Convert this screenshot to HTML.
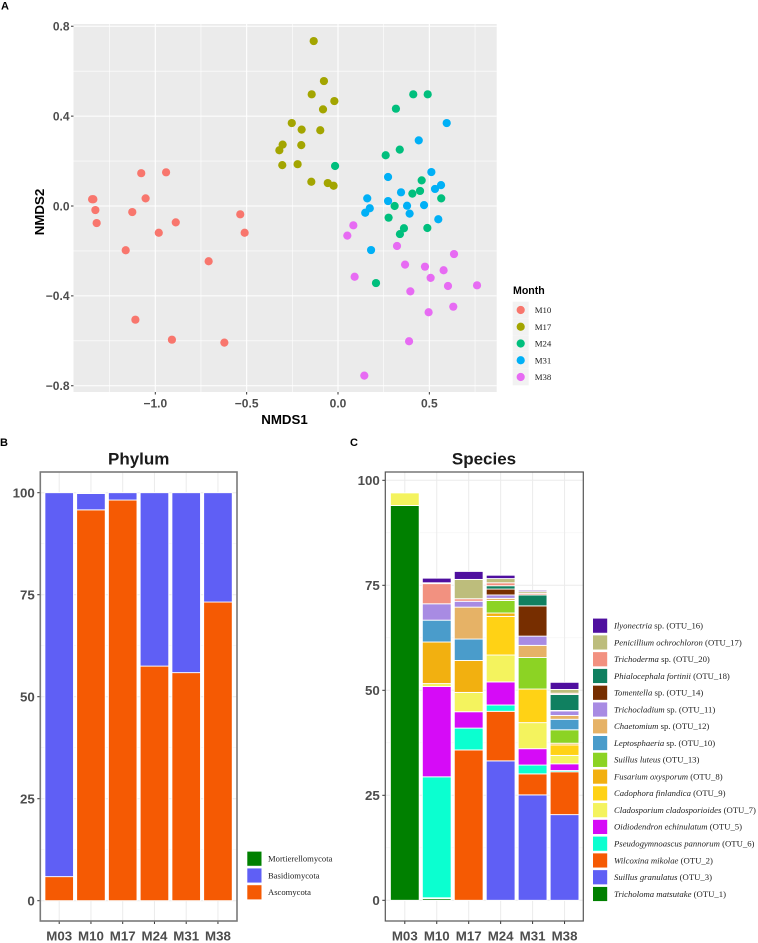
<!DOCTYPE html>
<html>
<head>
<meta charset="utf-8">
<title>Fungal community composition</title>
<style>
html,body{margin:0;padding:0;background:#fff;}
svg{display:block;}
text{font-family:"Liberation Sans",sans-serif;}
.serif{font-family:"Liberation Serif",serif;}
</style>
</head>
<body>
<svg id="fig" xmlns="http://www.w3.org/2000/svg" width="758" height="943" viewBox="0 0 758 943">
  <text x="1" y="9.5" font-size="11" font-weight="bold">A</text>
  <text x="0" y="446" font-size="11" font-weight="bold">B</text>
  <text x="350" y="446" font-size="11" font-weight="bold">C</text>
  <text x="284.5" y="424" font-size="13.3" font-weight="bold" text-anchor="middle">NMDS1</text>
  <text transform="translate(44,212) rotate(-90)" font-size="13.3" font-weight="bold" text-anchor="middle">NMDS2</text>
  <text x="513" y="294" font-size="10.6" font-weight="bold">Month</text>
  <text x="138.7" y="464.3" font-size="17" font-weight="bold" fill="#1a1a1a" text-anchor="middle">Phylum</text>
  <text x="484" y="464.3" font-size="17" font-weight="bold" fill="#1a1a1a" text-anchor="middle">Species</text>
</svg>
<script>
// ---------- Panel A data ----------
const scatterXTicks = [-1.0, -0.5, 0.0, 0.5];
const scatterXMinor = [-1.25, -0.75, -0.25, 0.25, 0.75];
const scatterYTicks = [-0.8, -0.4, 0.0, 0.4, 0.8];
const scatterYMinor = [-0.6, -0.2, 0.2, 0.6];
const scatterXLabels = ['\u22121.0', '\u22120.5', '0.0', '0.5'];
const scatterYLabels = ['\u22120.8', '\u22120.4', '0.0', '0.4', '0.8'];
const monthNames = ['M10', 'M17', 'M24', 'M31', 'M38'];
const monthColors = ['#F8766D', '#A3A500', '#00BF7D', '#00B0F6', '#E76BF3'];
const m10x = [-1.346,-1.339,-1.328,-1.321,-1.077,-0.941,-1.053,-1.126,-0.535,-0.888,-0.981,-0.511,-1.162,-0.708,-1.109,-0.909,-0.622];
const m10y = [0.030,0.030,-0.018,-0.076,0.146,0.150,0.034,-0.027,-0.037,-0.073,-0.119,-0.119,-0.197,-0.246,-0.506,-0.595,-0.608];
const m17x = [-0.133,-0.077,-0.144,-0.020,-0.082,-0.253,-0.199,-0.097,-0.303,-0.201,-0.321,-0.305,-0.221,-0.146,-0.056,-0.024];
const m17y = [0.734,0.556,0.497,0.467,0.430,0.369,0.340,0.337,0.273,0.271,0.248,0.182,0.186,0.108,0.102,0.090];
const m24x = [-0.016,0.412,0.491,0.317,0.338,0.261,0.458,0.449,0.407,0.565,0.310,0.277,0.361,0.339,0.489,0.208];
const m24y = [0.178,0.497,0.497,0.433,0.251,0.226,0.114,0.067,0.055,0.034,0.000,-0.052,-0.099,-0.125,-0.098,-0.343];
const m31x = [0.595,0.442,0.511,0.274,0.564,0.531,0.345,0.160,0.274,0.378,0.471,0.174,0.149,0.392,0.549,0.181];
const m31y = [0.369,0.292,0.151,0.129,0.093,0.076,0.061,0.034,0.022,0.001,0.004,-0.010,-0.030,-0.034,-0.059,-0.196];
const m38x = [0.084,0.051,0.323,0.635,0.367,0.476,0.578,0.507,0.091,0.602,0.761,0.396,0.631,0.496,0.389,0.144];
const m38y = [-0.086,-0.132,-0.178,-0.214,-0.261,-0.270,-0.286,-0.320,-0.315,-0.356,-0.353,-0.380,-0.448,-0.473,-0.602,-0.755];
const scatterXs = [m10x, m17x, m24x, m31x, m38x];
const scatterYs = [m10y, m17y, m24y, m31y, m38y];

// ---------- Panel B data ----------
const barCategories = ['M03', 'M10', 'M17', 'M24', 'M31', 'M38'];
const percentTicks = [0, 25, 50, 75, 100];
const percentMinor = [12.5, 37.5, 62.5, 87.5];
const ascomycota = [5.9, 95.8, 98.2, 57.5, 55.9, 73.2];
const basidiomycota = [94.1, 4.0, 1.8, 42.5, 44.1, 26.8];
const mortierellomycota = [0, 0.2, 0, 0, 0, 0];
const phylumSeries = [ascomycota, basidiomycota, mortierellomycota];
const phylumNames = ['Ascomycota', 'Basidiomycota', 'Mortierellomycota'];
const phylumColors = ['#F55A03', '#5F5FF5', '#008000'];

// ---------- Panel C data (bottom to top in stack order) ----------
const otu1  = [94, 0.4, 0, 0, 0, 0];
const otu3  = [0, 0, 0, 33.2, 25.1, 20.4];
const otu2  = [0, 0.2, 35.8, 11.8, 5, 10.2];
const otu6  = [0, 28.8, 5.2, 1.5, 2.1, 0.3];
const otu5  = [0, 21.5, 3.9, 5.5, 3.9, 1.6];
const otu7  = [3, 0.7, 4.6, 6.4, 6.2, 2];
const otu9  = [0, 0, 0, 9.2, 8, 2.5];
const otu8  = [0, 9.9, 7.6, 0.8, 0, 0.4];
const otu13 = [0, 0, 0, 3, 7.5, 3.2];
const otu10 = [0, 5.2, 5.1, 0, 0, 2.5];
const otu12 = [0, 0, 7.6, 0.5, 2.9, 0.9];
const otu11 = [0, 3.9, 1.4, 0.8, 2.2, 1.1];
const otu14 = [0, 0, 0, 1.4, 7.2, 0.1];
const otu18 = [0, 0, 0, 0.8, 2.6, 3.8];
const otu20 = [0, 4.8, 0.6, 0.7, 0.4, 0.3];
const otu17 = [0, 0.2, 4.6, 1, 0.4, 0.9];
const otu16 = [0, 1.1, 1.9, 0.8, 0.3, 1.7];
const speciesSeries = [otu1, otu3, otu2, otu6, otu5, otu7, otu9, otu8, otu13, otu10, otu12, otu11, otu14, otu18, otu20, otu17, otu16];
const speciesItalic = ['Tricholoma matsutake','Suillus granulatus','Wilcoxina mikolae','Pseudogymnoascus pannorum','Oidiodendron echinulatum','Cladosporium cladosporioides','Cadophora finlandica','Fusarium oxysporum','Suillus luteus','Leptosphaeria','Chaetomium','Trichocladium','Tomentella','Phialocephala fortinii','Trichoderma','Penicillium ochrochloron','Ilyonectria'];
const speciesSuffix = [' (OTU_1)',' (OTU_3)',' (OTU_2)',' (OTU_6)',' (OTU_5)',' (OTU_7)',' (OTU_9)',' (OTU_8)',' (OTU_13)',' sp. (OTU_10)',' sp. (OTU_12)',' sp. (OTU_11)',' sp. (OTU_14)',' (OTU_18)',' sp. (OTU_20)',' (OTU_17)',' sp. (OTU_16)'];
const speciesColors = ['#008000','#5F5FF5','#F55A03','#0BFFD0','#D60BF7','#F4F35E','#FFD215','#F2B010','#8CD324','#4A9CCB','#E6B266','#A88BE3','#772E00','#108060','#F29180','#BDBD7C','#4F0F9F'];

// ---------- Helpers ----------
const svg = document.getElementById('fig');
const NS = 'http://www.w3.org/2000/svg';
function mk(tag, geom) {
  const el = document.createElementNS(NS, tag);
  for (const k in geom) el.setAttribute(k, geom[k]);
  svg.appendChild(el);
  return el;
}
function tickText(str, x, y, anchor) {
  const t = mk('text', {x: x, y: y, 'font-size': 13.3, 'font-weight': 'bold', fill: '#4D4D4D', 'text-anchor': anchor});
  t.textContent = str;
  return t;
}

// ---------- Panel A ----------
const ax = v => 338 + 182.7 * v;
const ay = v => 206 - 224.7 * v;
const panelA = mk('rect', {x: 73.5, y: 24, width: 423.2, height: 368, fill: '#EBEBEB'});


scatterXMinor.forEach(v => {
  const g = mk('line', {x1: ax(v), x2: ax(v), y1: 24, y2: 392, stroke: '#fff', 'stroke-width': 0.6});
  
  
});
scatterYMinor.forEach(v => {
  const g = mk('line', {x1: 73.5, x2: 496.7, y1: ay(v), y2: ay(v), stroke: '#fff', 'stroke-width': 0.6});
  
  
});
scatterXTicks.forEach((v, i) => {
  const g = mk('line', {x1: ax(v), x2: ax(v), y1: 24, y2: 392, stroke: '#fff', 'stroke-width': 1.1});
  
  
  const tk = mk('line', {x1: ax(v), x2: ax(v), y1: 392, y2: 394.5, stroke: '#333', 'stroke-width': 1});
  
  
  const lb = tickText(scatterXLabels[i], ax(v), 407.5, 'middle');
  lb.setAttribute('font-size', '12');
  
  
});
scatterYTicks.forEach((v, i) => {
  const g = mk('line', {x1: 73.5, x2: 496.7, y1: ay(v), y2: ay(v), stroke: '#fff', 'stroke-width': 1.1});
  
  
  const tk = mk('line', {x1: 71, x2: 73.5, y1: ay(v), y2: ay(v), stroke: '#333', 'stroke-width': 1});
  
  
  const lb = tickText(scatterYLabels[i], 69.5, ay(v) + 4.3, 'end');
  lb.setAttribute('font-size', '12');
  
  
});
scatterXs.forEach((xs, s) => {
  xs.forEach((x, i) => {
    const c = mk('circle', {cx: ax(x), cy: ay(scatterYs[s][i]), r: 4.1, fill: monthColors[s]});
    
    
  });
});
monthNames.forEach((m, i) => {
  const cy = 310 + 16.75 * i;
  const k = mk('rect', {x: 512.7, y: cy - 8.3, width: 16, height: 16.6, fill: '#F2F2F2'});
  
  
  const d = mk('circle', {cx: 520.7, cy: cy, r: 4.1, fill: monthColors[i]});
  
  
  const t = mk('text', {x: 534.7, y: cy + 3, 'font-size': 8.8, fill: '#222', class: 'serif'});
  t.textContent = m;
  
  
});

// ---------- Stacked bar panels ----------
function barPanel(cfg) {
  const grid = '#EBEBEB';
  percentMinor.forEach(v => {
    const g = mk('line', {x1: cfg.left, x2: cfg.right, y1: cfg.y(v), y2: cfg.y(v), stroke: '#F3F3F3', 'stroke-width': 0.6});
    
    
  });
  percentTicks.forEach(v => {
    const g = mk('line', {x1: cfg.left, x2: cfg.right, y1: cfg.y(v), y2: cfg.y(v), stroke: grid, 'stroke-width': 1});
    
    
    const tk = mk('line', {x1: cfg.left - 3, x2: cfg.left, y1: cfg.y(v), y2: cfg.y(v), stroke: '#333', 'stroke-width': 1});
    
    
    const lb = tickText(String(v), cfg.left - 5.5, cfg.y(v) + 4.7, 'end');
    
    
  });
  barCategories.forEach((c, i) => {
    const x = cfg.x(i);
    const g = mk('line', {x1: x, x2: x, y1: 472, y2: 921, stroke: grid, 'stroke-width': 1});
    
    
    const tk = mk('line', {x1: x, x2: x, y1: 921, y2: 924, stroke: '#333', 'stroke-width': 1});
    
    
    const lb = tickText(c, x, 940.5, 'middle');
    
    
    let base = 0;
    cfg.series.forEach((vals, s) => {
      const v = vals[i];
      if (!v) return;
      const r = mk('rect', {x: x - cfg.bw / 2, y: cfg.y(base + v), width: cfg.bw, height: cfg.y(base) - cfg.y(base + v), fill: cfg.colors[s], stroke: '#fff', 'stroke-width': 0.9});
      
      
      base += v;
    });
  });
  const b = mk('rect', {x: cfg.left, y: 472, width: cfg.right - cfg.left, height: 449, fill: 'none', stroke: cfg.border, 'stroke-width': cfg.borderWidth});
  
  
}
barPanel({name: 'phylum', left: 40.3, right: 237, bw: 28.6, border: '#7A7A7A', borderWidth: 1.6, series: phylumSeries, colors: phylumColors,
  x: i => 59.2 + 31.75 * i, y: v => 900.7 - 4.08 * v});
barPanel({name: 'species', left: 385.3, right: 583.3, bw: 28.8, border: '#555', borderWidth: 1.2, series: speciesSeries, colors: speciesColors,
  x: i => 404.8 + 31.95 * i, y: v => 900.3 - 4.2 * v});

// ---------- Bar legends ----------
phylumNames.forEach((n, i) => {
  const cy = 892.3 - 16.8 * i;
  const k = mk('rect', {x: 247, y: cy - 7.4, width: 14.8, height: 14.8, fill: phylumColors[i], stroke: '#fff', 'stroke-width': 0.6});
  
  
  const t = mk('text', {x: 268, y: cy + 2.8, 'font-size': 8.6, fill: '#222', class: 'serif'});
  t.textContent = n;
  
  
});
speciesItalic.forEach((n, i) => {
  const cy = 894 - 16.77 * i;
  const k = mk('rect', {x: 592.7, y: cy - 7.4, width: 14.8, height: 14.8, fill: speciesColors[i], stroke: '#fff', 'stroke-width': 0.6});
  
  
  const t = mk('text', {x: 614, y: cy + 2.8, 'font-size': 8.7, fill: '#222', class: 'serif'});
  
  
  const it = document.createElementNS(NS, 'tspan');
  it.setAttribute('font-style', 'italic');
  it.textContent = n;
  t.appendChild(it);
  const rest = document.createElementNS(NS, 'tspan');
  rest.textContent = speciesSuffix[i];
  t.appendChild(rest);
});
</script>
</body>
</html>
